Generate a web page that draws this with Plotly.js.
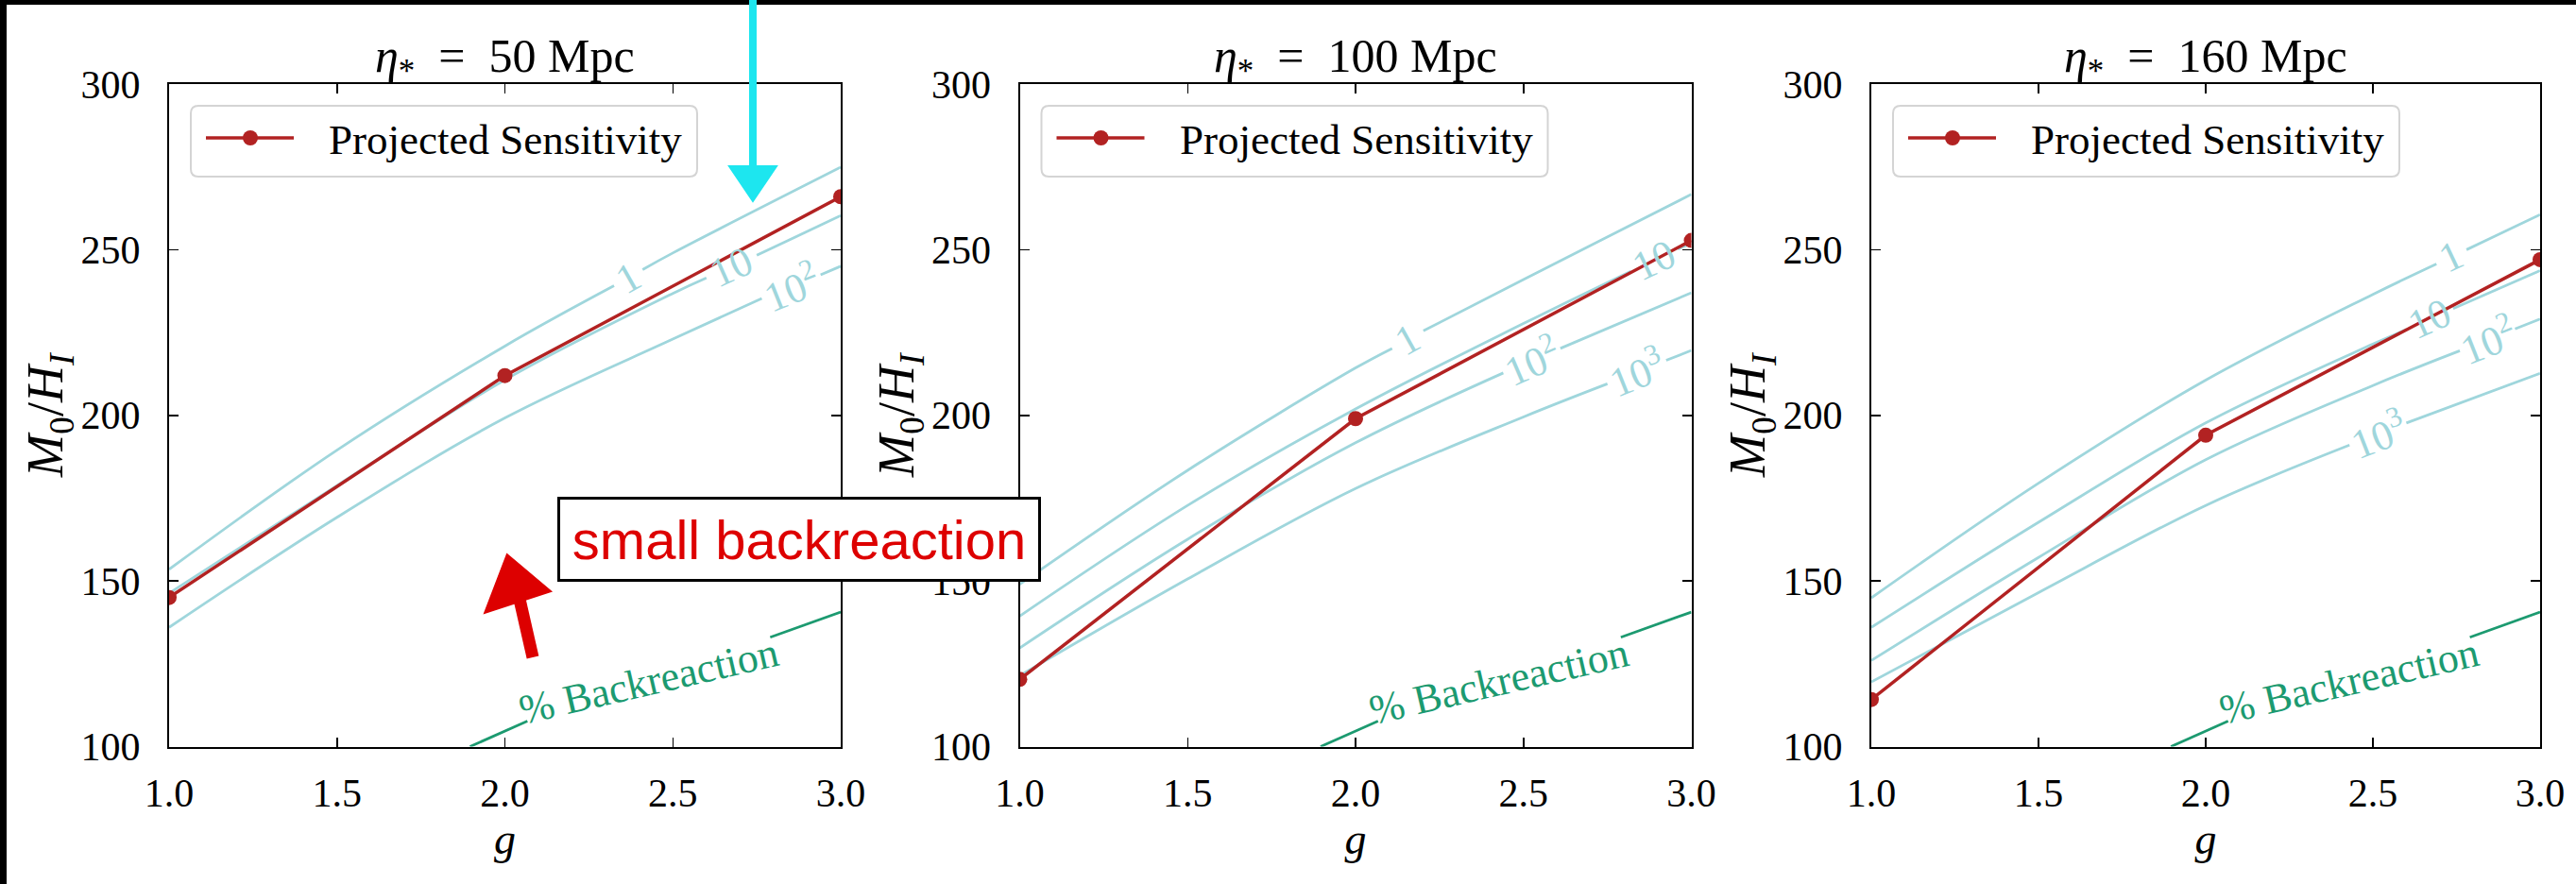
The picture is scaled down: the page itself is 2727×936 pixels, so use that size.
<!DOCTYPE html>
<html>
<head>
<meta charset="utf-8">
<script src="https://cdn.plot.ly/plotly-3.0.1.min.js"></script>
<style>
html,body{margin:0;padding:0;background:#ffffff;}
#chart{width:2727px;height:936px;}
</style>
</head>
<body>
<div id="chart"></div>
<script>
// ---------------- DATA ----------------
const gGrid = [1, 1.5, 2, 2.5, 3];              // g values where the contours were read
const sensG = [1, 2, 3];                          // g values of the projected sensitivity
const etaValues = [50, 100, 160];                 // eta_* in Mpc, one per panel

const sens50  = [145, 212, 266];
const sens100 = [120.3, 199, 252.8];
const sens160 = [114.2, 194, 247];

const levelText = ['1', '10', '10<sup>2</sup>', '10<sup>3</sup>'];

// contour lines (backreaction levels) M0/HI at gGrid
const cont50_1    = [153.5, 189.5, 220.9, 249.0, 274.9];
const cont50_10   = [146.3, 178.8, 210.7, 236.8, 260.3];
const cont50_100  = [136.0, 169.2, 199.2, 223.0, 245.0];

const cont100_1    = [149.0, 183.4, 214.3, 241.0, 266.7];
const cont100_10   = [139.4, 172.8, 201.9, 227.7, 252.0];
const cont100_100  = [129.8, 162.6, 191.7, 215.5, 237.0];
const cont100_1000 = [121.4, 150.6, 177.9, 199.5, 219.6];

const cont160_1    = [144.9, 179.5, 210.6, 236.5, 260.6];
const cont160_10   = [136.0, 167.7, 197.7, 221.5, 243.7];
const cont160_100  = [126.0, 157.1, 186.6, 209.0, 229.1];
const cont160_1000 = [119.5, 146.5, 172.8, 194.0, 212.7];

// label gaps on each contour: [g start, value start, g end, value end]
const gap50_1    = [2.325, 239.1, 2.41, 244.0];
const gap50_10   = [2.60, 241.5, 2.75, 248.3];
const gap50_100  = [2.765, 235.3, 2.94, 242.4];

const gap100_1    = [2.109, 220.2, 2.202, 225.5];
const gap100_10   = [2.82, 243.5, 2.96, 250.2];
const gap100_100  = [2.44, 212.8, 2.61, 220.2];
const gap100_1000 = [2.75, 209.5, 2.925, 216.6];

const gap160_1    = [2.69, 245.7, 2.78, 250.0];
const gap160_10   = [2.60, 225.9, 2.74, 232.2];
const gap160_100  = [2.76, 219.5, 2.925, 226.1];
const gap160_1000 = [2.43, 191.0, 2.60, 197.7];

// "% Backreaction" line (same in all panels), split by its label
const backG = [1.896, 2.067, 2.79, 3.0];
const backV = [100.0, 107.7, 133.0, 140.6];
const backLabel = '% Backreaction';

const xTicks = [1, 1.5, 2, 2.5, 3];
const yTicks = [100, 150, 200, 250, 300];

// ---------------- LAYOUT / STYLE ----------------
const W = 2727, H = 936;
const FONT = '"Liberation Serif", "Times New Roman", serif';
const SANS = '"Liberation Sans", Arial, sans-serif';
const CONT_COLOR = '#9fd6dc';
const RED = '#b22222';
const GREEN = '#1c9a70';
const dom = [[179, 890], [1079.5, 1790.5], [1981, 2689]];
const yTop = 89, yBot = 790.5;
const pxPerG = (dom[0][1] - dom[0][0]) / 2;
const pxPerV = (yBot - yTop) / 200;
const px = v => v / W;
const py = v => 1 - v / H;

const panels = [
  {eta: etaValues[0], sens: sens50,  conts: [[cont50_1, gap50_1], [cont50_10, gap50_10], [cont50_100, gap50_100]]},
  {eta: etaValues[1], sens: sens100, conts: [[cont100_1, gap100_1], [cont100_10, gap100_10], [cont100_100, gap100_100], [cont100_1000, gap100_1000]]},
  {eta: etaValues[2], sens: sens160, conts: [[cont160_1, gap160_1], [cont160_10, gap160_10], [cont160_100, gap160_100], [cont160_1000, gap160_1000]]}
];

function gapped(xs, ys, gap) {
  const X = [], Y = [];
  xs.forEach((x, i) => { if (x < gap[0]) { X.push(x); Y.push(ys[i]); } });
  X.push(gap[0]); Y.push(gap[1]);
  X.push(null); Y.push(null);
  X.push(gap[2]); Y.push(gap[3]);
  xs.forEach((x, i) => { if (x > gap[2]) { X.push(x); Y.push(ys[i]); } });
  return {X, Y};
}

const traces = [];
const annotations = [];
const shapes = [];
const layout = {
  width: W, height: H,
  margin: {l: 0, r: 0, t: 0, b: 0},
  paper_bgcolor: '#ffffff',
  plot_bgcolor: '#ffffff',
  showlegend: false,
  font: {family: FONT, color: '#000000'},
  annotations: annotations,
  shapes: shapes
};

panels.forEach((p, k) => {
  const sfx = k === 0 ? '' : String(k + 1);
  const xa = 'x' + sfx, ya = 'y' + sfx;
  const left = dom[k][0], right = dom[k][1];

  layout['xaxis' + sfx] = {
    domain: [px(left), px(right)], anchor: ya,
    range: [1, 3], tickvals: xTicks, tickformat: '.1f',
    ticks: 'inside', ticklen: 10, tickwidth: 1.5, tickcolor: '#000',
    showline: true, linecolor: '#000', linewidth: 2, mirror: 'ticks',
    showgrid: false, zeroline: false,
    tickfont: {family: FONT, size: 42, color: '#000'},
    ticklabelstandoff: 11,
    title: {text: '<i>g</i>', font: {family: FONT, size: 46, color: '#000'}, standoff: 4}
  };
  layout['yaxis' + sfx] = {
    domain: [py(yBot), py(yTop)], anchor: xa,
    range: [100, 300], tickvals: yTicks,
    ticks: 'inside', ticklen: 10, tickwidth: 1.5, tickcolor: '#000',
    showline: true, linecolor: '#000', linewidth: 2, mirror: 'ticks',
    showgrid: false, zeroline: false,
    tickfont: {family: FONT, size: 42, color: '#000'},
    ticklabelstandoff: 20,
    title: {text: '<i>M</i><sub>0</sub>/<i>H</i><sub><i>I</i></sub>', font: {family: FONT, size: 54, color: '#000'}, standoff: 0}
  };

  // contour lines and their inline labels
  p.conts.forEach((c, j) => {
    const g = gapped(gGrid, c[0], c[1]);
    traces.push({
      x: g.X, y: g.Y, xaxis: xa, yaxis: ya, type: 'scatter', mode: 'lines',
      line: {color: CONT_COLOR, width: 2.8, shape: 'spline', smoothing: 1},
      connectgaps: false, hoverinfo: 'skip', showlegend: false
    });
    const gap = c[1];
    const ang = Math.atan2((gap[3] - gap[1]) * pxPerV, (gap[2] - gap[0]) * pxPerG) * 180 / Math.PI;
    annotations.push({
      xref: xa, yref: ya, x: (gap[0] + gap[2]) / 2, y: (gap[1] + gap[3]) / 2,
      text: levelText[j], showarrow: false, textangle: -ang,
      xanchor: 'center', yanchor: 'middle',
      font: {family: FONT, size: 44, color: CONT_COLOR}
    });
  });

  // % Backreaction line
  traces.push({
    x: [backG[0], backG[1], null, backG[2], backG[3]],
    y: [backV[0], backV[1], null, backV[2], backV[3]],
    xaxis: xa, yaxis: ya, type: 'scatter', mode: 'lines',
    line: {color: GREEN, width: 2.8}, connectgaps: false, hoverinfo: 'skip', showlegend: false
  });
  annotations.push({
    xref: xa, yref: ya, x: (backG[1] + backG[2]) / 2, y: (backV[1] + backV[2]) / 2 - 0.8,
    text: backLabel, showarrow: false, textangle: -13,
    xanchor: 'center', yanchor: 'middle',
    font: {family: FONT, size: 44, color: GREEN}
  });

  // projected sensitivity
  traces.push({
    x: sensG, y: p.sens, xaxis: xa, yaxis: ya, type: 'scatter', mode: 'lines+markers',
    name: 'Projected Sensitivity',
    line: {color: RED, width: 3.5}, marker: {color: RED, size: 16},
    cliponaxis: true, showlegend: false
  });

  // panel title
  annotations.push({
    xref: 'paper', yref: 'paper', x: px((left + right) / 2), y: py(63),
    text: '<i>η</i><sub>*</sub>  =  ' + p.eta + ' Mpc', showarrow: false,
    xanchor: 'center', yanchor: 'middle',
    font: {family: FONT, size: 50, color: '#000'}
  });

  // legend box (drawn by hand to match the long legend line)
  const bx0 = left + 23, by0 = yTop + 23, bx1 = bx0 + 536, by1 = by0 + 75, r = 8;
  const P = (x, y) => px(x) + ',' + py(y);
  shapes.push({
    type: 'path', xref: 'paper', yref: 'paper', layer: 'above',
    path: 'M' + P(bx0 + r, by0) + ' L' + P(bx1 - r, by0) + ' Q' + P(bx1, by0) + ' ' + P(bx1, by0 + r) +
          ' L' + P(bx1, by1 - r) + ' Q' + P(bx1, by1) + ' ' + P(bx1 - r, by1) +
          ' L' + P(bx0 + r, by1) + ' Q' + P(bx0, by1) + ' ' + P(bx0, by1 - r) +
          ' L' + P(bx0, by0 + r) + ' Q' + P(bx0, by0) + ' ' + P(bx0 + r, by0) + ' Z',
    fillcolor: 'rgba(255,255,255,0.9)', line: {color: '#d4d4d4', width: 2}
  });
  const ly = yTop + 57;
  shapes.push({type: 'line', xref: 'paper', yref: 'paper', layer: 'above',
    x0: px(left + 39), x1: px(left + 132), y0: py(ly), y1: py(ly), line: {color: RED, width: 3.5}});
  shapes.push({type: 'circle', xref: 'paper', yref: 'paper', layer: 'above',
    x0: px(left + 86 - 8), x1: px(left + 86 + 8), y0: py(ly + 8), y1: py(ly - 8),
    fillcolor: RED, line: {color: RED, width: 0}});
  annotations.push({
    xref: 'paper', yref: 'paper', x: px(left + 167), y: py(ly + 2),
    text: 'Projected Sensitivity', showarrow: false, xanchor: 'left', yanchor: 'middle',
    font: {family: FONT, size: 45, color: '#000'}
  });
});

// black strips on the top and left edge of the screenshot
shapes.push({type: 'rect', xref: 'paper', yref: 'paper', layer: 'below', x0: 0, x1: px(7), y0: 0, y1: 1,
  fillcolor: '#000', line: {width: 0}});
shapes.push({type: 'rect', xref: 'paper', yref: 'paper', layer: 'below', x0: 0, x1: 1, y0: py(5), y1: 1,
  fillcolor: '#000', line: {width: 0}});

// cyan hand-drawn arrow
const CYAN = '#1de6ef';
shapes.push({type: 'line', xref: 'paper', yref: 'paper', layer: 'above',
  x0: px(797), x1: px(797), y0: py(0), y1: py(180), line: {color: CYAN, width: 8}});
shapes.push({type: 'path', xref: 'paper', yref: 'paper', layer: 'above',
  path: 'M' + px(772) + ',' + py(176) + ' L' + px(822) + ',' + py(176) + ' L' + px(797) + ',' + py(213) + ' Z',
  fillcolor: CYAN, line: {color: CYAN, width: 2}});

// red hand-drawn arrow
const HRED = '#dd0000';
shapes.push({type: 'line', xref: 'paper', yref: 'paper', layer: 'above',
  x0: px(564), x1: px(549), y0: py(696), y1: py(630), line: {color: HRED, width: 13}});
shapes.push({type: 'path', xref: 'paper', yref: 'paper', layer: 'above',
  path: 'M' + px(537) + ',' + py(588) + ' L' + px(514) + ',' + py(648) + ' L' + px(582) + ',' + py(626) + ' Z',
  fillcolor: HRED, line: {color: HRED, width: 3}});

// "small backreaction" note
annotations.push({
  xref: 'paper', yref: 'paper', x: px((590 + 1102) / 2), y: py(571),
  text: 'small backreaction', showarrow: false, xanchor: 'center', yanchor: 'middle',
  width: 506, height: 84, align: 'center', valign: 'middle',
  bgcolor: '#ffffff', bordercolor: '#000000', borderwidth: 3, borderpad: 0,
  font: {family: SANS, size: 58, color: HRED}
});

Plotly.newPlot('chart', traces, layout, {displayModeBar: false, staticPlot: true});
</script>
</body>
</html>
